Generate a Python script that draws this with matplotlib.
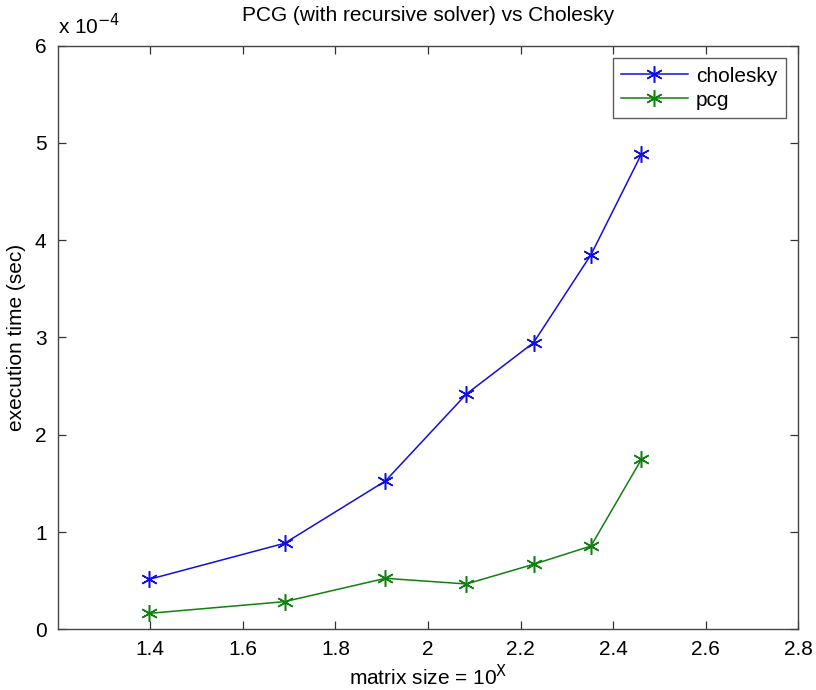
import matplotlib.pyplot as plt
from matplotlib.ticker import FuncFormatter

plt.rcParams['font.family'] = ['Liberation Sans', 'DejaVu Sans']

# log10 of matrix size (5^2, 7^2, ..., 17^2)
matrix_exp = [1.398, 1.690, 1.908, 2.083, 2.228, 2.352, 2.461]
cholesky_time = [0.514e-4, 0.884e-4, 1.525e-4, 2.419e-4, 2.947e-4, 3.851e-4, 4.886e-4]
pcg_time = [0.164e-4, 0.284e-4, 0.524e-4, 0.466e-4, 0.668e-4, 0.856e-4, 1.748e-4]

x_ticks = [1.4, 1.6, 1.8, 2.0, 2.2, 2.4, 2.6, 2.8]
y_ticks = [0, 1e-4, 2e-4, 3e-4, 4e-4, 5e-4, 6e-4]

fig = plt.figure(figsize=(8.16, 6.90), dpi=100)
ax = fig.add_axes([0.0707, 0.088, 0.9077, 0.8458])

asterisk = (6, 2, 0)
ax.plot(matrix_exp, cholesky_time, color='#1010e0', lw=1.1, marker=asterisk,
        markersize=12, markeredgewidth=1.1, label='cholesky')
ax.plot(matrix_exp, pcg_time, color='#108010', lw=1.1, marker=asterisk,
        markersize=12, markeredgewidth=1.1, label='pcg')

ax.set_xlim(1.2, 2.8)
ax.set_ylim(0, 6e-4)
ax.set_xticks(x_ticks)
ax.set_yticks(y_ticks)
ax.xaxis.set_major_formatter(FuncFormatter(lambda v, p: f'{v:g}'))
ax.yaxis.set_major_formatter(FuncFormatter(lambda v, p: f'{v / 1e-4:.0f}'))
ax.tick_params(direction='in', top=True, right=True, length=6, width=0.9,
               labelsize=15, color='#333333', pad=8)
for s in ax.spines.values():
    s.set_color('#444444')
    s.set_linewidth(1.0)

ax.text(0.0, 1.012, r'x 10$^{-4}$', transform=ax.transAxes, fontsize=15,
        ha='left', va='bottom')

ax.set_title('PCG (with recursive solver) vs Cholesky', fontsize=15, pad=18)
ax.set_xlabel(r'matrix size = 10$^{\mathrm{X}}$', fontsize=15, labelpad=3)
ax.set_ylabel('execution time (sec)', fontsize=15, labelpad=6)

leg = ax.legend(loc='upper right', fontsize=15, frameon=True, fancybox=False,
                edgecolor='#333333', borderaxespad=0.6, handlelength=3.2,
                labelspacing=0.25, borderpad=0.4, handletextpad=0.4)
leg.get_frame().set_linewidth(1.0)

fig.savefig('out.png', dpi=100)
